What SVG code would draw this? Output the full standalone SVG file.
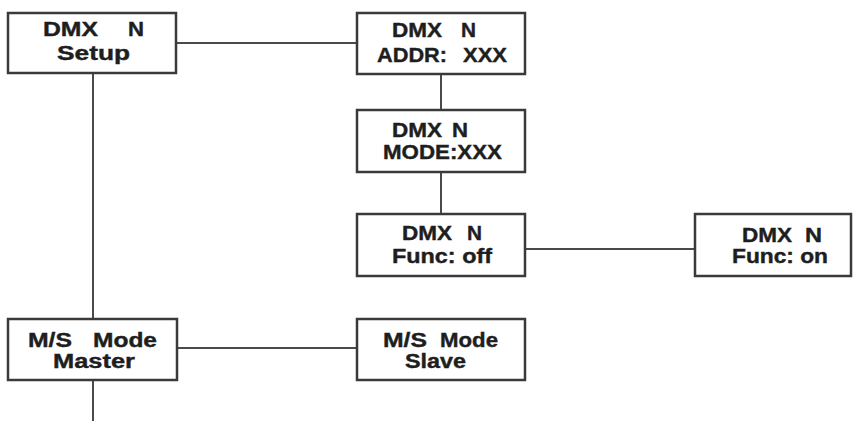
<svg xmlns="http://www.w3.org/2000/svg" width="853" height="421" viewBox="0 0 853 421">
<style>
.box{fill:#fff;stroke:#3a3a3a;stroke-width:2.5}
.conn line{stroke:#4a4a4a;stroke-width:2}
text{font-family:"Liberation Sans",Arial,sans-serif;font-weight:bold;font-size:20px;fill:#1e1e1e;stroke:#1e1e1e;stroke-width:0.4}
</style>
<rect width="853" height="421" fill="#fff"/>
<g class="conn" id="connectors">
<line x1="176" y1="43" x2="357" y2="43"/>
<line x1="93" y1="73" x2="93" y2="319"/>
<line x1="93" y1="380" x2="93" y2="421"/>
<line x1="441" y1="74" x2="441" y2="110"/>
<line x1="441" y1="172" x2="441" y2="214"/>
<line x1="525" y1="249" x2="695" y2="249"/>
<line x1="177" y1="348" x2="357" y2="348"/>
</g>
<g id="dmx-setup">
<rect class="box" x="8" y="13" width="168" height="60"/>
<text><tspan x="43" y="36" textLength="55" lengthAdjust="spacingAndGlyphs">DMX</tspan> <tspan x="128" y="36" textLength="16" lengthAdjust="spacingAndGlyphs">N</tspan> <tspan x="57" y="60" textLength="73" lengthAdjust="spacingAndGlyphs">Setup</tspan></text>
</g>
<g id="dmx-addr">
<rect class="box" x="357" y="13" width="168" height="61"/>
<text><tspan x="392" y="37" textLength="50" lengthAdjust="spacingAndGlyphs">DMX</tspan> <tspan x="461" y="37" textLength="15" lengthAdjust="spacingAndGlyphs">N</tspan> <tspan x="377" y="62" textLength="70" lengthAdjust="spacingAndGlyphs">ADDR:</tspan> <tspan x="463" y="62" textLength="44" lengthAdjust="spacingAndGlyphs">XXX</tspan></text>
</g>
<g id="dmx-mode">
<rect class="box" x="357" y="110" width="168" height="62"/>
<text><tspan x="392" y="137" textLength="50" lengthAdjust="spacingAndGlyphs">DMX</tspan> <tspan x="452" y="137" textLength="16" lengthAdjust="spacingAndGlyphs">N</tspan> <tspan x="383" y="159" textLength="119" lengthAdjust="spacingAndGlyphs">MODE:XXX</tspan></text>
</g>
<g id="dmx-func-off">
<rect class="box" x="357" y="214" width="168" height="62"/>
<text><tspan x="402" y="240" textLength="50" lengthAdjust="spacingAndGlyphs">DMX</tspan> <tspan x="467" y="240" textLength="15" lengthAdjust="spacingAndGlyphs">N</tspan> <tspan x="392" y="263" textLength="100" lengthAdjust="spacingAndGlyphs">Func: off</tspan></text>
</g>
<g id="dmx-func-on">
<rect class="box" x="695" y="214" width="156" height="62"/>
<text><tspan x="742" y="242" textLength="50" lengthAdjust="spacingAndGlyphs">DMX</tspan> <tspan x="805" y="242" textLength="17" lengthAdjust="spacingAndGlyphs">N</tspan> <tspan x="732" y="263" textLength="96" lengthAdjust="spacingAndGlyphs">Func: on</tspan></text>
</g>
<g id="ms-master">
<rect class="box" x="8" y="319" width="169" height="61"/>
<text><tspan x="28" y="347" textLength="44" lengthAdjust="spacingAndGlyphs">M/S</tspan> <tspan x="93" y="347" textLength="64" lengthAdjust="spacingAndGlyphs">Mode</tspan> <tspan x="53" y="368" textLength="82" lengthAdjust="spacingAndGlyphs">Master</tspan></text>
</g>
<g id="ms-slave">
<rect class="box" x="357" y="319" width="168" height="61"/>
<text><tspan x="383" y="347" textLength="44" lengthAdjust="spacingAndGlyphs">M/S</tspan> <tspan x="440" y="347" textLength="58" lengthAdjust="spacingAndGlyphs">Mode</tspan> <tspan x="405" y="368" textLength="61" lengthAdjust="spacingAndGlyphs">Slave</tspan></text>
</g>
</svg>
